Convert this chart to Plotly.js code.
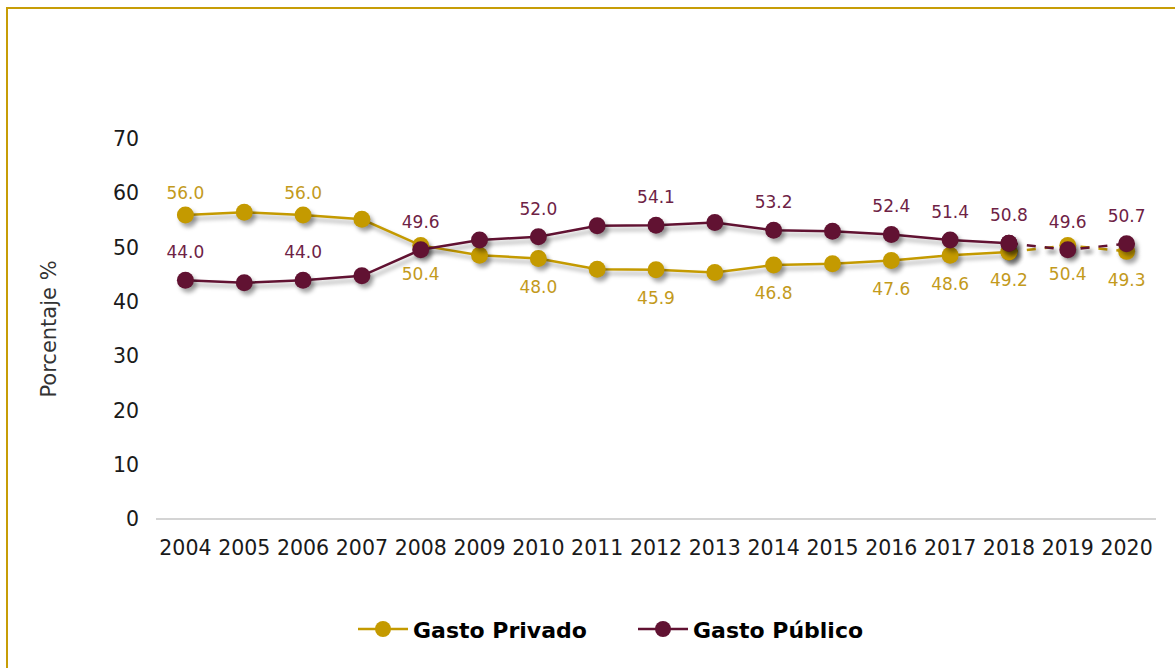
<!DOCTYPE html>
<html>
<head>
<meta charset="utf-8">
<script src="https://cdn.plot.ly/plotly-3.0.1.min.js"></script>
<style>
html,body{margin:0;padding:0;background:#fff;overflow:hidden;}
#chart{position:absolute;left:0;top:0;width:1175px;height:668px;}
#frame{position:absolute;left:6px;top:7px;width:2000px;height:2000px;border-top:2px solid #C79D07;border-left:2px solid #C79D07;pointer-events:none;}
.scatterlayer .points path,.scatterlayer .js-line{filter:drop-shadow(3px 4px 2px rgba(0,0,0,0.35));}
</style>
</head>
<body>
<div id="chart"></div>
<div id="frame"></div>
<script>
const years = ['2004','2005','2006','2007','2008','2009','2010','2011','2012','2013','2014','2015','2016','2017','2018','2019','2020'];
const privado = [56.0,56.5,56.0,55.2,50.4,48.6,48.0,46.0,45.9,45.4,46.8,47.0,47.6,48.6,49.2,50.4,49.3];
const publico = [44.0,43.5,44.0,44.8,49.6,51.4,52.0,54.0,54.1,54.6,53.2,53.0,52.4,51.4,50.8,49.6,50.7];
const labeled = [1,0,1,0,1,0,1,0,1,0,1,0,1,1,1,1,1];
const lastSolid = '2018';

const gold = '#C49A00';
const wine = '#611232';
const goldText = '#C39A1C';
const wineText = '#6E2245';
const font = 'DejaVu Sans, sans-serif';

const cut = years.indexOf(lastSolid);
function solidPart(v){return v.map((y,i)=> i<=cut ? y : null);}
function dashPart(v){return v.map((y,i)=> i>=cut ? y : null);}
function labels(v){return v.map((y,i)=> labeled[i] ? y.toFixed(1) : '');}

function lineTraces(name, vals, color){
  return [
    {x:years, y:solidPart(vals), name:name, type:'scatter', mode:'lines+markers',
     line:{color:color,width:2.5}, marker:{color:color,size:17},
     cliponaxis:false, hoverinfo:'x+y', connectgaps:false},
    {x:years, y:dashPart(vals), name:name, type:'scatter', mode:'lines+markers', showlegend:false,
     line:{color:color,width:2.5,dash:'dash'}, marker:{color:color,size:17},
     cliponaxis:false, hoverinfo:'x+y', connectgaps:false}
  ];
}
function labelTrace(vals, tcolor, tpos, offs){
  return {x:years, y:vals, type:'scatter', mode:'markers+text', showlegend:false, hoverinfo:'skip',
    marker:{size:offs, opacity:0}, text:labels(vals), textposition:tpos,
    textfont:{family:font,size:17,color:tcolor}, cliponaxis:false};
}

const privPos = privado.map((v,i)=> i<4 ? 'top center' : 'bottom center');
const privOff = privado.map((v,i)=> i<4 ? 17 : 33);

const data = [
  ...lineTraces('Gasto Privado', privado, gold),
  ...lineTraces('Gasto Público', publico, wine),
  labelTrace(privado, goldText, privPos, privOff),
  labelTrace(publico, wineText, 'top center', 27)
];

const layout = {
  width:1175, height:668,
  margin:{l:156, r:19, t:139, b:149},
  paper_bgcolor:'#fff', plot_bgcolor:'#fff',
  font:{family:font, color:'#1a1a1a'},
  showlegend:true,
  legend:{orientation:'h', x:0.477, xanchor:'center', y:-0.29, yanchor:'middle',
          font:{family:font, size:22, color:'#000', weight:'bold'}, itemwidth:50,
          entrywidth:215, entrywidthmode:'pixels', tracegroupgap:0},
  xaxis:{type:'category', range:[-0.5,16.5], showgrid:false, zeroline:false,
         showline:false, ticks:'', tickfont:{family:font,size:20.5,color:'#1a1a1a'}, ticklabelstandoff:14},
  yaxis:{range:[0,70], dtick:10, showgrid:false, zeroline:true, zerolinecolor:'#d4d4d4', zerolinewidth:2,
         showline:false, ticks:'', tickfont:{family:font,size:20.5,color:'#1a1a1a'}, ticklabelstandoff:16,
         automargin:true,
         title:{text:'Porcentaje %', font:{family:font,size:21,color:'#333'}, standoff:50}},
};

Plotly.newPlot('chart', data, layout, {displayModeBar:false, staticPlot:true});
</script>
</body>
</html>
